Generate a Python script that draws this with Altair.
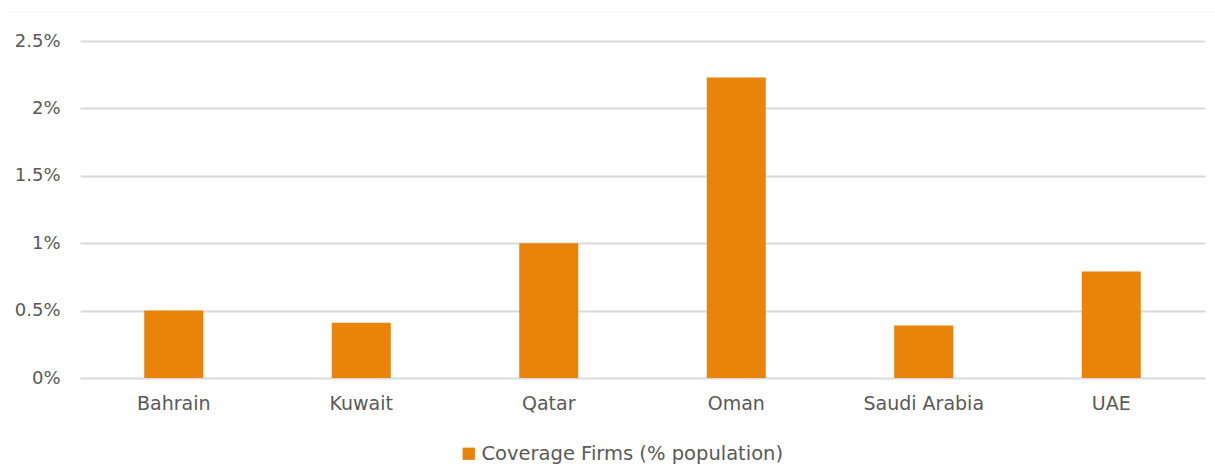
import altair as alt
import pandas as pd

countries = ["Bahrain", "Kuwait", "Qatar", "Oman", "Saudi Arabia", "UAE"]
coverage_pct = [0.50, 0.41, 1.00, 2.23, 0.39, 0.79]
y_ticks = [0, 0.5, 1, 1.5, 2, 2.5]
series_name = "Coverage Firms (% population)"

df = pd.DataFrame({"Country": countries, "Coverage": coverage_pct, "Series": series_name})

FONT = "DejaVu Sans"
TEXT = "#595959"
GRID = "#D9D9D9"
ORANGE = "#E9830A"

bars = alt.Chart(df).mark_bar(width=59, color=ORANGE).encode(
    x=alt.X(
        "Country:N",
        sort=countries,
        scale=alt.Scale(paddingInner=0, paddingOuter=0),
        axis=alt.Axis(
            title=None, domain=False, ticks=False, grid=False, labelAngle=0,
            labelFont=FONT, labelFontSize=19, labelColor=TEXT, labelPadding=16,
        ),
    ),
    y=alt.Y(
        "Coverage:Q",
        scale=alt.Scale(domain=[0, 2.5], nice=False),
        axis=alt.Axis(
            title=None, domain=False, ticks=False, values=y_ticks,
            labelExpr="datum.value + '%'",
            labelFont=FONT, labelFontSize=18, labelColor=TEXT, labelPadding=20,
            grid=True, gridColor=GRID, gridWidth=2,
        ),
    ),
    color=alt.Color(
        "Series:N",
        scale=alt.Scale(domain=[series_name], range=[ORANGE]),
        legend=alt.Legend(
            title=None, orient="none", legendX=379, legendY=403,
            symbolType="square", symbolSize=150, symbolStrokeWidth=0,
            labelFont=FONT, labelFontSize=19.5, labelColor=TEXT, labelLimit=500,
            padding=0, labelOffset=3,
        ),
    ),
)

# faint border line along the top of the chart region
border = alt.Chart(pd.DataFrame({"k": [0]})).mark_rule(color="#F2F2F2", strokeWidth=1).encode(
    x=alt.value(-72), x2=alt.value(1135), y=alt.value(-29)
)

chart = alt.layer(border, bars).properties(
    width=1125, height=337,
    background="white",
    autosize=alt.AutoSizeParams(type="none"),
    padding={"left": 80, "top": 41, "right": 10, "bottom": 88},
).configure_view(stroke=None)

chart.save("out.html", embed_options={"renderer": "svg", "actions": False})
